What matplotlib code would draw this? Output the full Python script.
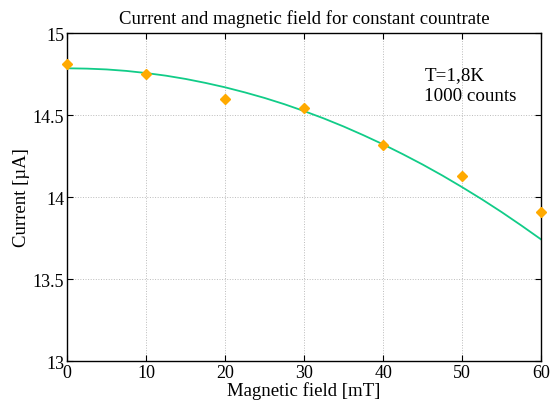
import numpy as np
import matplotlib
matplotlib.use("Agg")
import matplotlib.pyplot as plt

plt.rcParams.update({
    "font.family": ["Liberation Serif", "DejaVu Serif"],
    "font.size": 12,
    "xtick.direction": "in", "ytick.direction": "in",
    "xtick.top": True, "ytick.right": True,
    "axes.linewidth": 1.0,
})

# measured points
field = [0, 10, 20, 30, 40, 50, 60]
current = [14.81, 14.75, 14.60, 14.54, 14.32, 14.13, 13.91]

# fitted curve, sampled every 2.5 mT
fit_field = [0, 2.5, 5, 7.5, 10, 12.5, 15, 17.5, 20, 22.5, 25, 27.5, 30,
             32.5, 35, 37.5, 40, 42.5, 45, 47.5, 50, 52.5, 55, 57.5, 60]
fit_current = [14.785, 14.783, 14.778, 14.769, 14.756, 14.740, 14.720,
               14.696, 14.669, 14.638, 14.604, 14.566, 14.524, 14.479,
               14.430, 14.377, 14.321, 14.261, 14.198, 14.131, 14.060,
               13.986, 13.908, 13.826, 13.741]

fig = plt.figure(figsize=(5.5, 4.1), dpi=100)
ax = fig.add_axes([0.122, 0.117, 0.862, 0.8])

ax.plot(fit_field, fit_current, "-", color="#11CC88", lw=1.3, zorder=2)
ax.plot(field, current, "D", color="#FFAA00", ms=5.5, mec="#FFAA00", zorder=3, clip_on=False)

ax.set_xlim(0, 60); ax.set_ylim(13, 15)
ax.set_xticks(range(0, 61, 10))
ax.set_yticks([13, 13.5, 14, 14.5, 15])
ax.set_yticklabels(["13", "13.5", "14", "14.5", "15"])
ax.tick_params(length=4, labelsize=13, pad=2)
ax.grid(True, ls=":", color="#bbbbbb", lw=0.7)
ax.set_axisbelow(True)

ax.set_xlabel("Magnetic field [mT]", fontsize=13.5, labelpad=0)
ax.set_ylabel("Current [µA]", fontsize=13.5, labelpad=2)
ax.set_title("Current and magnetic field for constant countrate", fontsize=13.5, pad=7)
ax.text(45.2, 14.59, "T=1,8K\n1000 counts", fontsize=13.7, linespacing=1.3)

fig.savefig("out.png")
